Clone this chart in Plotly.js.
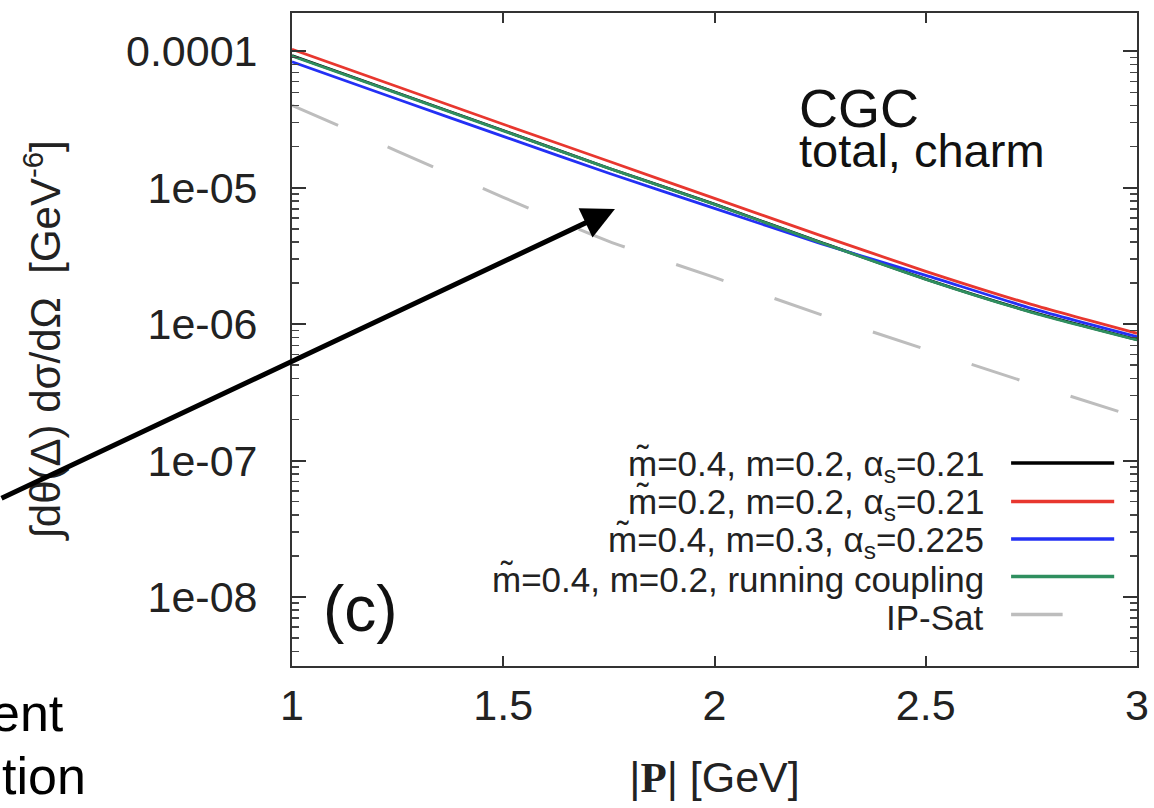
<!DOCTYPE html>
<html>
<head>
<meta charset="utf-8">
<script src="https://cdn.plot.ly/plotly-3.0.1.min.js"></script>
<style>html,body{margin:0;padding:0;background:#fff;}#chart{width:1154px;height:808px;}</style>
</head>
<body>
<div id="chart"></div>
<script>
// |P| values (GeV)
var pValues = [1.0, 1.25, 1.5, 1.75, 2.0, 2.25, 2.5, 2.75, 3.0];

// Cross sections [GeV^-6]
var blackVals = [9.3e-5, 4.95e-5, 2.63e-5, 1.39e-5, 7.58e-6, 4.0e-6, 2.14e-6, 1.23e-6, 7.7e-7];
var redVals   = [1.035e-4, 5.50e-5, 2.92e-5, 1.563e-5, 8.36e-6, 4.48e-6, 2.44e-6, 1.396e-6, 8.57e-7];
var blueVals  = [8.38e-5, 4.45e-5, 2.38e-5, 1.276e-5, 7.06e-6, 3.91e-6, 2.28e-6, 1.306e-6, 8.09e-7];
var greenVals = [9.24e-5, 4.92e-5, 2.61e-5, 1.387e-5, 7.55e-6, 3.98e-6, 2.13e-6, 1.222e-6, 7.67e-7];
var ipsatVals = [4.02e-5, 1.85e-5, 8.51e-6, 4.05e-6, 2.20e-6, 1.18e-6, 6.53e-7, 3.65e-7, 2.08e-7];

var seriesNames = [
  "m\u0303=0.4, m=0.2, \u03b1<sub>s</sub>=0.21",
  "m\u0303=0.2, m=0.2, \u03b1<sub>s</sub>=0.21",
  "m\u0303=0.4, m=0.3, \u03b1<sub>s</sub>=0.225",
  "m\u0303=0.4, m=0.2, running coupling",
  "IP-Sat"
];
var seriesColors = ["#000000", "#e8372f", "#2330f5", "#2f8f5f", "#bdbdbd"];

var xTickVals = [1, 1.5, 2, 2.5, 3];
var xTickText = ["1", "1.5", "2", "2.5", "3"];
var yTickVals = [1e-4, 1e-5, 1e-6, 1e-7, 1e-8];
var yTickText = ["0.0001", "1e-05", "1e-06", "1e-07", "1e-08"];

var minorY = [];
for (var e = -9; e <= -4; e++) {
  for (var k = 2; k <= 9; k++) minorY.push(k * Math.pow(10, e));
}

var FONT = "Liberation Sans, Arial, Helvetica, sans-serif";
var dashPattern = "50px,54px";
var yRange = [-8.506, -3.719];
var labelPad = "\u00a0\u00a0";

var allVals = [blackVals, redVals, blueVals, greenVals, ipsatVals];
var traces = allVals.map(function (v, i) {
  return {
    x: pValues, y: v, type: "scatter", mode: "lines",
    name: seriesNames[i], showlegend: false,
    line: { color: seriesColors[i], width: i === 4 ? 3 : 2.8, dash: i === 4 ? dashPattern : "solid", shape: "spline", smoothing: 0.6 },
    hoverinfo: "skip"
  };
});

// Manual key (text left of sample, as in the figure)
var keyTextX = 0.821, keyLineX0 = 0.851, keyLineX1 = 0.973, keyDashX1 = 0.912;
var keyRowsY = [0.3067, 0.2481, 0.1903, 0.1332, 0.0750];
var annotations = [];
var shapes = [];
seriesNames.forEach(function (n, i) {
  annotations.push({
    xref: "paper", yref: "paper", x: keyTextX, y: keyRowsY[i],
    xanchor: "right", yanchor: "middle", showarrow: false,
    text: n, font: { family: FONT, size: 35, color: "#222" }
  });
  shapes.push({
    type: "line", xref: "paper", yref: "paper",
    x0: keyLineX0, x1: i === 4 ? keyDashX1 : keyLineX1, y0: keyRowsY[i] + 0.004, y1: keyRowsY[i] + 0.004,
    line: { color: seriesColors[i], width: 3.5 }
  });
});

annotations.push(
  { xref: "paper", yref: "paper", x: 0.598, y: 0.855, xanchor: "left", yanchor: "middle", showarrow: false,
    text: "CGC", font: { family: FONT, size: 54, color: "#111" } },
  { xref: "paper", yref: "paper", x: 0.598, y: 0.789, xanchor: "left", yanchor: "middle", showarrow: false,
    text: "total, charm", font: { family: FONT, size: 47, color: "#111" } },
  { xref: "paper", yref: "paper", x: 0.034, y: 0.087, xanchor: "left", yanchor: "middle", showarrow: false,
    text: "(c)", font: { family: FONT, size: 64, color: "#111" } },
  { xref: "paper", yref: "paper", x: 0.3822, y: 0.6998, text: "", showarrow: true,
    ax: -615, ay: 290, axref: "pixel", ayref: "pixel",
    arrowhead: 2, arrowsize: 1.3, arrowwidth: 5, arrowcolor: "#000", standoff: 0 },
  { xref: "paper", yref: "paper", x: -0.267, y: -0.072, xanchor: "right", yanchor: "middle", showarrow: false,
    text: "ent", font: { family: FONT, size: 52, color: "#000" } },
  { xref: "paper", yref: "paper", x: -0.242, y: -0.168, xanchor: "right", yanchor: "middle", showarrow: false,
    text: "tion", font: { family: FONT, size: 52, color: "#000" } }
);

var layout = {
  width: 1154, height: 808,
  margin: { l: 292, r: 17, t: 13, b: 142, pad: 0 },
  paper_bgcolor: "#fff", plot_bgcolor: "#fff",
  showlegend: false,
  font: { family: FONT, color: "#222" },
  xaxis: {
    range: [1, 3], tickmode: "array", tickvals: xTickVals, ticktext: xTickText,
    ticks: "inside", ticklen: 10, tickwidth: 2, tickcolor: "#333",
    showline: true, linecolor: "#333", linewidth: 2, mirror: "allticks",
    showgrid: false, zeroline: false,
    tickfont: { family: FONT, size: 43, color: "#222" },
    title: { text: "|<b style=\"font-family:'Liberation Serif', 'Times New Roman', serif\">P</b>| [GeV]", font: { family: FONT, size: 43, color: "#222" }, standoff: 34 }
  },
  yaxis: {
    type: "log", range: yRange, tickmode: "array", tickvals: yTickVals,
    ticktext: yTickText.map(function (t) { return t + labelPad; }),
    ticks: "inside", ticklen: 14, tickwidth: 2, tickcolor: "#333",
    showline: true, linecolor: "#333", linewidth: 2, mirror: "allticks",
    showgrid: false, zeroline: false,
    minor: { tickmode: "array", tickvals: minorY, ticks: "inside", ticklen: 7, tickwidth: 1.5, tickcolor: "#444", showgrid: false },
    tickfont: { family: FONT, size: 43, color: "#222" },
    title: { text: "\u222bd\u03b8(\u0394) d\u03c3/d\u03a9  [GeV<sup>-6</sup>]", font: { family: FONT, size: 42, color: "#222" }, standoff: 52 }
  },
  annotations: annotations,
  shapes: shapes
};

Plotly.newPlot("chart", traces, layout, { staticPlot: true, displayModeBar: false });
</script>
</body>
</html>
